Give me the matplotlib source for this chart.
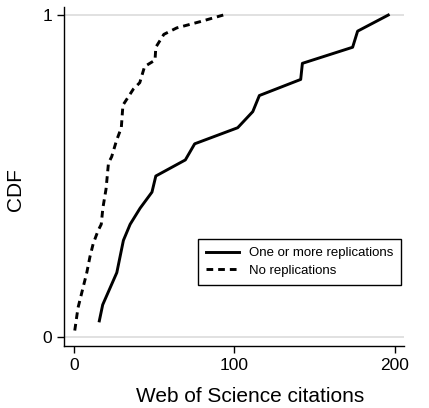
import matplotlib
matplotlib.use("Agg")
import matplotlib.pyplot as plt

# --- data ---
# one or more replications (solid)
rep_cites = [15.8, 17.9, 26.7, 30.8, 35, 41.2, 48.6, 51, 69.4, 75.2,
             102, 111.4, 115.5, 141.25, 142.3, 173.6, 176.7, 195.8]
rep_cdf = [0.05, 0.1, 0.2, 0.3, 0.35, 0.4, 0.45, 0.5, 0.55, 0.6,
           0.65, 0.7, 0.75, 0.8, 0.85, 0.9, 0.95, 1.0]

# no replications (dashed)
norep_cites = [0.5, 2.5, 5.5, 8, 10, 12, 15, 17, 18, 20, 21.5, 23.5, 26.5,
               29.5, 30.5, 37, 41, 44, 50.5, 51, 56, 64, 79, 93]
norep_cdf = [0.02, 0.09, 0.15, 0.2, 0.25, 0.29, 0.33, 0.35, 0.40, 0.46, 0.54,
             0.56, 0.61, 0.65, 0.72, 0.77, 0.79, 0.84, 0.86, 0.90, 0.94, 0.96,
             0.98, 1.0]

x_ticks = [0, 100, 200]
y_ticks = [0, 1]

plt.rcParams['font.family'] = ['Liberation Sans', 'DejaVu Sans']

fig = plt.figure(figsize=(4.29, 4.08), dpi=100)
ax = fig.add_axes([64 / 429, 62 / 408, 340 / 429, 339 / 408])

# light grid lines at 0 and 1
for yv in y_ticks:
    ax.axhline(yv, color='#d8d8d8', lw=1.1, zorder=0)

ax.plot(rep_cites, rep_cdf, color='black', lw=2.1, ls='-',
        label='One or more replications')
ax.plot(norep_cites, norep_cdf, color='black', lw=2.1, ls=(0, (2.3, 1.7)),
        label='No replications')

ax.set_xlim(-6.2, 205.6)
ax.set_ylim(-0.028, 1.025)
ax.set_xticks(x_ticks)
ax.set_yticks(y_ticks)
ax.tick_params(axis='both', direction='out', length=5, width=1,
               labelsize=12.5, color='black')
ax.spines['top'].set_visible(False)
ax.spines['right'].set_visible(False)
ax.spines['left'].set_linewidth(1)
ax.spines['bottom'].set_linewidth(1)

ax.set_xlabel('Web of Science citations', fontsize=15, va='center')
ax.xaxis.set_label_coords(0.547, -0.1496)
ax.set_ylabel('CDF', fontsize=15, va='center')
ax.yaxis.set_label_coords(-0.144, 0.46)

leg = ax.legend(loc='upper left', bbox_to_anchor=(198 / 429, 169 / 408),
                bbox_transform=fig.transFigure, fontsize=9.5, frameon=True,
                fancybox=False, edgecolor='black', framealpha=1,
                handlelength=2.5, handletextpad=0.75, borderpad=0.6,
                labelspacing=0.4, borderaxespad=0)
leg.get_frame().set_linewidth(1)

fig.savefig('out.png', dpi=100, facecolor='white')
